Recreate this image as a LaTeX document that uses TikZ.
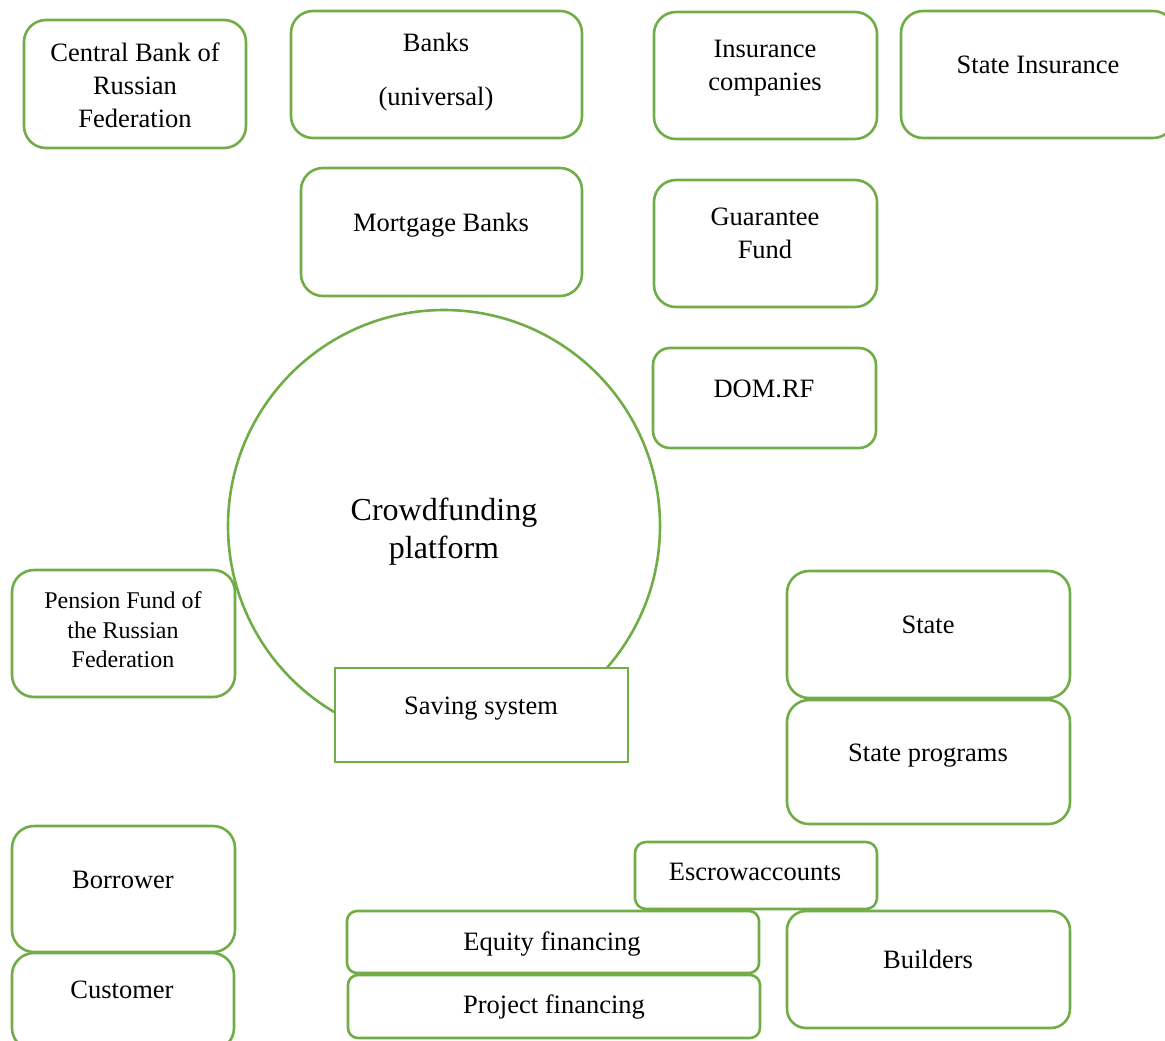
\documentclass[tikz,border=0pt]{standalone}
\usepackage{fontspec}
\setmainfont{Liberation Serif}
\usetikzlibrary{fit}
\definecolor{gr}{HTML}{70AD47}
\tikzset{
  rbox/.style={draw=gr, line width=2.6pt, rounded corners=#1, inner sep=0pt},
  rbox/.default=22pt,
  sbox/.style={draw=gr, line width=2.6pt, fill=white, inner sep=0pt},
  txt/.style={font=\fontsize{26.5}{33}\selectfont, inner sep=0pt, align=center},
  btxt/.style={txt, anchor=base},
}
\begin{document}
\begin{tikzpicture}[x=1pt,y=-1pt]
\useasboundingbox (0,0) rectangle (1165,1041);
% circle
\node[draw=gr, line width=2.6pt, circle, minimum size=432pt, inner sep=0pt] (circ) at (444,526) {};
\node[txt, font=\fontsize{32}{38}\selectfont] (crowd) at (444,532) {Crowdfunding\\platform};
% boxes
\node[rbox, fit={(24,20) (246,148)}] (cbbox) {};
\node[txt] (cb) at (135,85) {Central Bank of\\Russian\\Federation};
\node[rbox, fit={(291,11) (582,138)}] (banksbox) {};
\node[txt] (banks) at (436,72) {Banks\\[21pt](universal)};
\node[rbox, fit={(654,12) (877,139)}] (insbox) {};
\node[txt] (ins) at (765,68) {Insurance\\companies};
\node[rbox, fit={(901,11) (1175,138)}] (stinsbox) {};
\node[btxt] (stins) at (1038,74) {State Insurance};
\node[rbox, fit={(301,168) (582,296)}] (mortbox) {};
\node[btxt] (mort) at (441,231) {Mortgage Banks};
\node[rbox, fit={(654,180) (877,307)}] (guarbox) {};
\node[txt] (guar) at (765,233) {Guarantee\\Fund};
\node[rbox=17pt, fit={(653,348) (876,448)}] (dombox) {};
\node[btxt] (dom) at (764,397) {DOM.RF};
\node[rbox, fit={(12,570) (235,697)}] (penbox) {};
\node[txt, font=\fontsize{24}{29.5}\selectfont] (pen) at (123,630) {Pension Fund of\\the Russian\\Federation};
\node[sbox, fit={(335,668) (628,762)}] (savbox) {};
\node[btxt] (sav) at (481,714) {Saving system};
\node[rbox, fit={(787,571) (1070,698)}] (statebox) {};
\node[btxt] (state) at (928,633) {State};
\node[rbox, fit={(787,700) (1070,824)}] (progbox) {};
\node[btxt] (prog) at (928,761) {State programs};
\node[rbox, fit={(12,826) (235,952)}] (borbox) {};
\node[btxt] (bor) at (123,888) {Borrower};
\node[rbox, fit={(12,953) (234,1050)}] (custbox) {};
\node[btxt] (cust) at (122,998) {Customer};
\node[rbox=11pt, fit={(635,842) (877,909)}] (escbox) {};
\node[btxt] (esc) at (755,880) {Escrowaccounts};
\node[rbox=10pt, fit={(347,911) (759,973)}] (eqbox) {};
\node[btxt] (eq) at (552,950) {Equity financing};
\node[rbox=10pt, fit={(348,975) (760,1038)}] (projbox) {};
\node[btxt] (proj) at (554,1013) {Project financing};
\node[rbox=19pt, fit={(787,911) (1070,1028)}] (buildbox) {};
\node[btxt] (build) at (928,968) {Builders};
\end{tikzpicture}
\end{document}
